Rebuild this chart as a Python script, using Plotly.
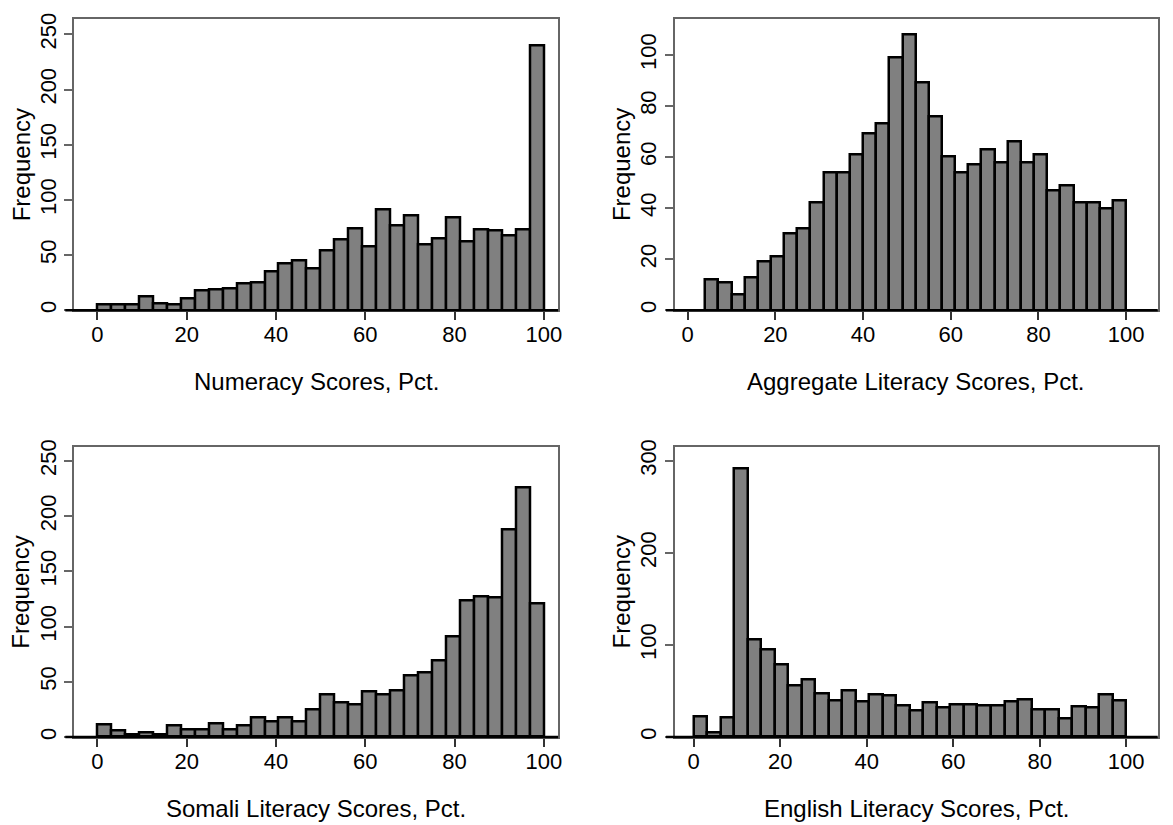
import plotly.graph_objects as go

# ---- data: histogram counts per bin ----
numeracy_counts = [5, 5, 5, 12, 6, 5, 11, 18, 19, 20, 24, 25, 35, 42, 45, 38,
                   54, 64, 74, 58, 91, 77, 86, 60, 65, 84, 62, 73, 72, 68, 73, 240]
aggregate_counts = [12, 11, 6, 13, 19, 21, 30, 32, 42, 54, 54, 61, 69, 73, 99, 108,
                    89, 76, 60, 54, 57, 63, 58, 66, 58, 61, 47, 49, 42, 42, 40, 43]
somali_counts = [11, 6, 2, 4, 2, 10, 7, 7, 12, 7, 10, 18, 14, 18, 14, 25,
                 38, 31, 29, 41, 38, 42, 56, 58, 69, 91, 124, 127, 126, 188, 226, 121]
english_counts = [22, 5, 21, 292, 106, 95, 79, 56, 62, 47, 40, 50, 39, 46, 45, 34,
                  29, 37, 32, 35, 35, 34, 34, 39, 41, 30, 30, 20, 33, 32, 46, 40]

# bin layout (start, width) for each histogram
numeracy_bins = (0.0, 3.125)
aggregate_bins = (4.0, 3.0)
somali_bins = (0.0, 3.125)
english_bins = (0.0, 3.125)

x_titles = ["Numeracy Scores, Pct.", "Aggregate Literacy Scores, Pct.",
            "Somali Literacy Scores, Pct.", "English Literacy Scores, Pct."]
x_ticks = [0, 20, 40, 60, 80, 100]
y_ticks = [[0, 50, 100, 150, 200, 250], [0, 20, 40, 60, 80, 100],
           [0, 50, 100, 150, 200, 250], [0, 100, 200, 300]]

W, H = 1173, 825
FONT = "Liberation Sans, Arial, sans-serif"
TICK_SIZE = 22
TITLE_SIZE = 24

# panel frames in pixels: left, right, top, bottom; plus axis ranges
panels = [
    dict(l=74.5, r=560, t=11.7, b=307, xr=[-5.18, 103.2], yr=[0, 264.3],
         counts=numeracy_counts, bins=numeracy_bins),
    dict(l=677.3, r=1161.7, t=11.7, b=307, xr=[-2.89, 107.2], yr=[0, 114.2],
         counts=aggregate_counts, bins=aggregate_bins),
    dict(l=74.5, r=560, t=445, b=739, xr=[-5.18, 103.2], yr=[0, 263.0],
         counts=somali_counts, bins=somali_bins),
    dict(l=677.3, r=1161.7, t=445, b=739, xr=[-4.31, 107.3], yr=[0, 315.4],
         counts=english_counts, bins=english_bins),
]

fig = go.Figure()
annotations = []
shapes = []

for i, p in enumerate(panels):
    n = i + 1
    xa = "x" if n == 1 else f"x{n}"
    ya = "y" if n == 1 else f"y{n}"
    start, width = p["bins"]
    centers = [start + width * (k + 0.5) for k in range(len(p["counts"]))]
    fig.add_trace(go.Bar(
        x=centers, y=p["counts"], width=width,
        marker=dict(color="#808080", line=dict(color="black", width=2.5)),
        xaxis=xa, yaxis=ya, showlegend=False, hoverinfo="x+y",
    ))

    xd = [p["l"] / W, p["r"] / W]
    yd = [1 - p["b"] / H, 1 - p["t"] / H]
    axis_font = dict(family=FONT, size=TICK_SIZE, color="black")
    fig.layout[f"xaxis{'' if n == 1 else n}"] = dict(
        domain=xd, anchor=ya, range=p["xr"], tickvals=x_ticks,
        ticks="outside", ticklen=8, tickwidth=1.5, tickcolor="#333",
        showline=True, mirror=True, linecolor="#666", linewidth=1.5,
        showgrid=False, zeroline=False, tickfont=axis_font,
        ticklabelstandoff=-4,
    )
    fig.layout[f"yaxis{'' if n == 1 else n}"] = dict(
        domain=yd, anchor=xa, range=p["yr"], tickvals=y_ticks[i],
        ticks="outside", ticklen=8, tickwidth=1.5, tickcolor="#666",
        showline=True, mirror=True, linecolor="#666", linewidth=1.5,
        showgrid=False, zeroline=False, tickfont=axis_font, tickangle=-90,
    )

    # thick black baseline running along the bottom of each panel
    shapes.append(dict(type="line", xref="paper", yref="paper",
                       x0=(p["l"] - 9) / W, x1=p["r"] / W,
                       y0=1 - p["b"] / H, y1=1 - p["b"] / H,
                       line=dict(color="black", width=2.5), layer="above"))

    annotations.append(dict(
        text=x_titles[i], xref="paper", yref="paper",
        x=(p["l"] + p["r"]) / 2 / W, y=1 - (p["b"] + 72) / H,
        xanchor="center", yanchor="middle", showarrow=False,
        font=dict(family=FONT, size=TITLE_SIZE, color="black")))
    annotations.append(dict(
        text="Frequency", xref="paper", yref="paper",
        x=(p["l"] - 53.5) / W, y=1 - (p["t"] + p["b"]) / 2 / H,
        xanchor="center", yanchor="middle", showarrow=False, textangle=-90,
        font=dict(family=FONT, size=TITLE_SIZE, color="black")))

fig.update_layout(
    width=W, height=H, margin=dict(l=0, r=0, t=0, b=0),
    paper_bgcolor="white", plot_bgcolor="white",
    bargap=0, annotations=annotations, shapes=shapes,
    font=dict(family=FONT, size=TICK_SIZE, color="black"),
)

fig.write_html("out.html")
